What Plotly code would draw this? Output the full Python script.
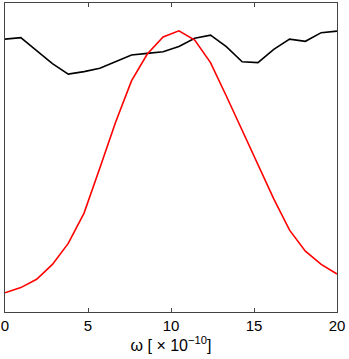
import plotly.graph_objects as go

# frequency grid (x 1e-10)
omega = [0.0, 0.952, 1.905, 2.857, 3.810, 4.762, 5.714, 6.667, 7.619, 8.571, 9.524,
         10.476, 11.429, 12.381, 13.333, 14.286, 15.238, 16.190, 17.143, 18.095, 19.048, 20.0]

black_curve = [0.883, 0.888, 0.846, 0.804, 0.770, 0.778, 0.789, 0.810, 0.832, 0.837, 0.842,
               0.859, 0.886, 0.896, 0.859, 0.810, 0.807, 0.850, 0.883, 0.876, 0.904, 0.909]

red_curve = [0.062, 0.079, 0.106, 0.154, 0.222, 0.320, 0.466, 0.615, 0.748, 0.835, 0.890,
             0.910, 0.880, 0.807, 0.699, 0.589, 0.476, 0.366, 0.265, 0.197, 0.154, 0.123]

x_ticks = [0, 5, 10, 15, 20]

fig = go.Figure()
fig.add_trace(go.Scatter(x=omega, y=black_curve, mode='lines',
                         line=dict(color='black', width=1.6)))
fig.add_trace(go.Scatter(x=omega, y=red_curve, mode='lines',
                         line=dict(color='red', width=1.6)))

fig.update_layout(
    width=349, height=359,
    margin=dict(l=5, r=12, t=3, b=47, autoexpand=False),
    paper_bgcolor='white', plot_bgcolor='white',
    showlegend=False,
    font=dict(family='Liberation Sans, Arial, sans-serif', size=15, color='black'),
    xaxis=dict(
        range=[0, 20], tickvals=x_ticks, ticks='inside', ticklen=4,
        tickcolor='#444', showgrid=False, zeroline=False, automargin=False,
        showline=True, linecolor='#444', linewidth=1, mirror='allticks',
        title=dict(text='ω [ × 10<sup>−10</sup>]', standoff=4, font=dict(size=16)),
    ),
    yaxis=dict(
        range=[0, 1], showticklabels=False, ticks='', showgrid=False, zeroline=False,
        showline=True, linecolor='#444', linewidth=1, mirror=True, automargin=False,
    ),
)

# page body has a default margin; drop it so the chart sits at the window corner
fig.write_html("out.html", config={'displayModeBar': False},
               post_script="document.body.style.margin='0';")
